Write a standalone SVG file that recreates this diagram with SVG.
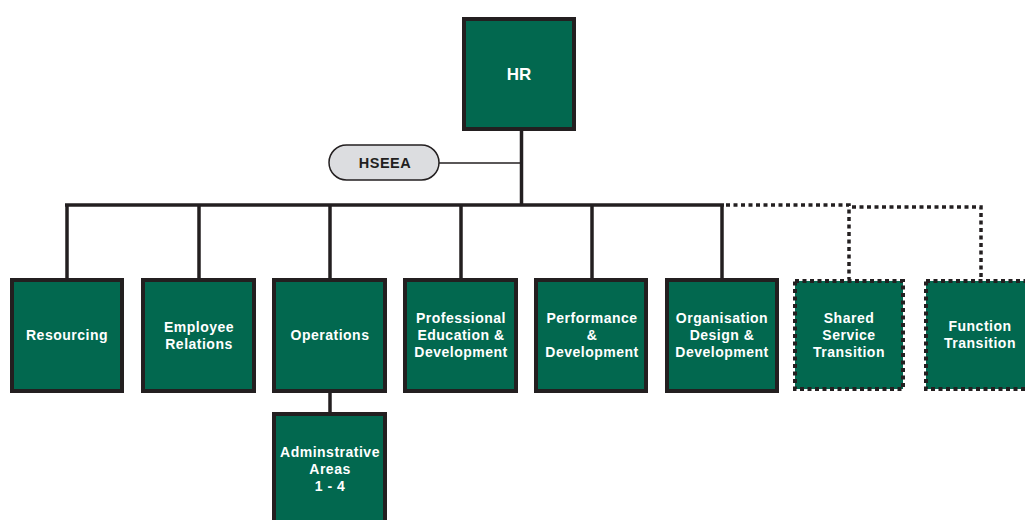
<svg xmlns="http://www.w3.org/2000/svg" width="1025" height="520" viewBox="0 0 1025 520">
<style>
.box{fill:#02684f;stroke:#231f20;stroke-width:4}
.dbox{fill:#02684f;stroke:#231f20;stroke-width:4;stroke-dasharray:4 3.5}
.t{font-family:"Liberation Sans",Arial,sans-serif;font-weight:bold;font-size:14px;fill:#ffffff;text-anchor:middle;letter-spacing:0.5px}
.ln{stroke:#231f20;stroke-width:3.5;fill:none}
.dl{stroke:#231f20;stroke-width:3.5;fill:none;stroke-dasharray:4 3.5}
</style>
<rect width="1025" height="520" fill="#ffffff"/>
<g id="connectors">
<line class="ln" x1="521.5" y1="130" x2="521.5" y2="205"/>
<line x1="439" y1="163" x2="521.5" y2="163" stroke="#231f20" stroke-width="1.4"/>
<line class="ln" x1="65" y1="205" x2="724" y2="205"/>
<line class="ln" x1="67" y1="205" x2="67" y2="279"/>
<line class="ln" x1="199" y1="205" x2="199" y2="279"/>
<line class="ln" x1="330" y1="205" x2="330" y2="279"/>
<line class="ln" x1="461" y1="205" x2="461" y2="279"/>
<line class="ln" x1="592" y1="205" x2="592" y2="279"/>
<line class="ln" x1="722" y1="205" x2="722" y2="279"/>
<line class="ln" x1="330" y1="391" x2="330" y2="413"/>
<path class="dl" d="M726 205 H849 V279"/>
<path class="dl" d="M852 207 H981 V279"/>
</g>
<g id="hr">
<rect class="box" x="464" y="19" width="110" height="110"/>
<text class="t" x="519" y="80" style="font-size:17px;letter-spacing:0">HR</text>
</g>
<g id="hseea">
<rect x="329" y="145" width="110" height="35" rx="17.5" fill="#dcdde0" stroke="#231f20" stroke-width="1.5"/>
<text class="t" x="385" y="168" style="fill:#231f20;font-size:14.5px">HSEEA</text>
</g>
<g id="resourcing">
<rect class="box" x="12" y="280" width="110" height="111"/>
<text class="t" x="67" y="340">Resourcing</text>
</g>
<g id="employee-relations">
<rect class="box" x="143" y="280" width="111" height="111"/>
<text class="t" x="199" y="332">Employee</text>
<text class="t" x="199" y="349">Relations</text>
</g>
<g id="operations">
<rect class="box" x="274" y="280" width="111" height="111"/>
<text class="t" x="330" y="340">Operations</text>
</g>
<g id="administrative-areas">
<rect class="box" x="274" y="414" width="111" height="112"/>
<text class="t" x="330" y="457">Adminstrative</text>
<text class="t" x="330" y="474">Areas</text>
<text class="t" x="330" y="491">1 - 4</text>
</g>
<g id="professional-education">
<rect class="box" x="405" y="280" width="111" height="111"/>
<text class="t" x="461" y="323">Professional</text>
<text class="t" x="461" y="340">Education &amp;</text>
<text class="t" x="461" y="357">Development</text>
</g>
<g id="performance">
<rect class="box" x="536" y="280" width="110" height="111"/>
<text class="t" x="592" y="323">Performance</text>
<text class="t" x="592" y="340">&amp;</text>
<text class="t" x="592" y="357">Development</text>
</g>
<g id="organisation-design">
<rect class="box" x="667" y="280" width="110" height="111"/>
<text class="t" x="722" y="323">Organisation</text>
<text class="t" x="722" y="340">Design &amp;</text>
<text class="t" x="722" y="357">Development</text>
</g>
<g id="shared-service">
<rect class="dbox" x="795" y="281" width="108" height="108"/>
<text class="t" x="849" y="323">Shared</text>
<text class="t" x="849" y="340">Service</text>
<text class="t" x="849" y="357">Transition</text>
</g>
<g id="function-transition">
<rect class="dbox" x="926" y="281" width="108" height="108"/>
<text class="t" x="980" y="331">Function</text>
<text class="t" x="980" y="348">Transition</text>
</g>
</svg>
